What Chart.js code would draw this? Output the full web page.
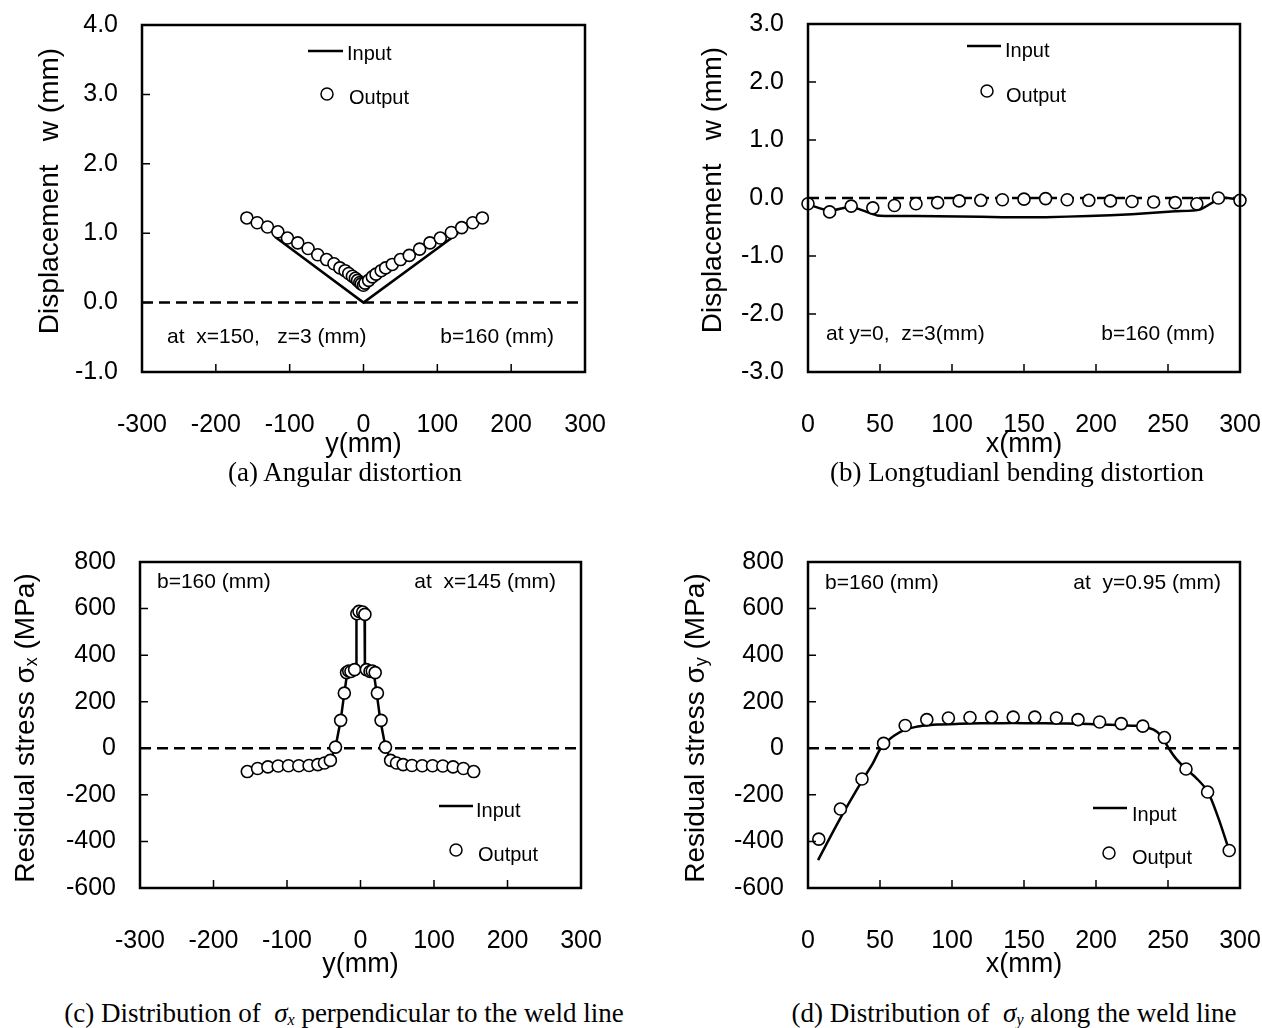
<!DOCTYPE html>
<html>
<head>
<meta charset="utf-8">
<script src="https://cdn.jsdelivr.net/npm/chart.js@4.4.1/dist/chart.umd.min.js"></script>
<style>
  html, body { margin: 0; padding: 0; background: #fff; }
  body { width: 1262px; height: 1028px; position: relative; overflow: hidden; }
  .panel { position: absolute; }
  .cap { position: absolute; transform: translateX(-50%); white-space: nowrap;
         font-family: "Liberation Serif", "Times New Roman", serif; font-size: 27px; color: #000; line-height: 30px; }
  .cap sub { font-size: 16px; vertical-align: -3px; }
</style>
</head>
<body>
<div class="panel" style="left:0;top:0"><canvas id="cA" width="631" height="461"></canvas></div>
<div class="panel" style="left:631px;top:0"><canvas id="cB" width="631" height="461"></canvas></div>
<div class="panel" style="left:0;top:480px"><canvas id="cC" width="631" height="501"></canvas></div>
<div class="panel" style="left:631px;top:480px"><canvas id="cD" width="631" height="501"></canvas></div>

<div class="cap" style="left:345px;top:457px">(a) Angular distortion</div>
<div class="cap" style="left:1017px;top:457px">(b) Longtudianl bending distortion</div>
<div class="cap" style="left:344px;top:998px">(c) Distribution of&nbsp; <i>σ<sub>x</sub></i> perpendicular to the weld line</div>
<div class="cap" style="left:1014px;top:998px">(d) Distribution of&nbsp; <i>σ<sub>y</sub></i> along the weld line</div>

<script>
// ---- data ----
// (a) angular distortion, w vs y
const angInY = [-120, 0, 128];
const angInW = [0.95, 0, 1.0];
const angOutY = [-158, -144, -130, -116, -103, -89, -75, -62, -50, -40, -32, -25, -20, -15, -11, -8, -5, -3,
                 0, 2, 7, 12, 17, 24, 30, 39, 50, 62, 76, 90, 104, 119, 133, 148, 161];
const angOutW = [1.22, 1.15, 1.09, 1.02, 0.93, 0.86, 0.78, 0.69, 0.62, 0.56, 0.50, 0.46, 0.42, 0.38, 0.35, 0.32, 0.29, 0.27,
                 0.25, 0.28, 0.32, 0.37, 0.41, 0.46, 0.50, 0.55, 0.62, 0.68, 0.77, 0.86, 0.93, 1.01, 1.08, 1.15, 1.22];

// (b) longitudinal bending, w vs x
const lonInX = [0, 15, 30, 48, 75, 105, 135, 165, 195, 225, 255, 272, 287, 300];
const lonInW = [-0.11, -0.22, -0.15, -0.30, -0.31, -0.32, -0.33, -0.33, -0.31, -0.28, -0.23, -0.20, 0.0, -0.03];
const lonOutX = [0, 15, 30, 45, 60, 75, 90, 105, 120, 135, 150, 165, 180, 195, 210, 225, 240, 255, 270, 285, 300];
const lonOutW = [-0.10, -0.24, -0.14, -0.17, -0.13, -0.10, -0.08, -0.05, -0.04, -0.03, -0.02, -0.01, -0.03, -0.04,
                 -0.05, -0.06, -0.07, -0.08, -0.10, 0.0, -0.04];

// (c) sigma_x across the weld
const sxInY = [-41, -34, -27, -22, -18, -6, -5.5, 5.5, 6, 18, 22, 27, 34, 41];
const sxInS = [-52, 5, 120, 237, 325, 335, 585, 585, 335, 325, 237, 120, 5, -52];
const sxOutY = [-154, -140, -126, -112, -98, -84, -70, -58, -49, -41, -34, -27, -22, -19, -16, -13, -8,
                -5, -2, 3, 6, 8, 13, 16, 20, 23, 28, 34, 41, 49, 58, 70, 84, 98, 112, 126, 140, 154];
const sxOutS = [-100, -87, -80, -76, -75, -75, -74, -70, -63, -52, 5, 120, 237, 325, 332, 330, 338,
                578, 588, 585, 575, 338, 330, 332, 325, 237, 120, 5, -52, -63, -70, -74, -75, -75, -76, -80, -87, -100];

// (d) sigma_y along the weld
const syInX = [7, 22.5, 37.5, 45, 50, 55, 60, 67.5, 75, 82.5, 90, 105, 120, 135, 150, 165, 180, 195, 210, 225,
               232.5, 240, 245, 250, 255, 262.5, 270, 277.5, 285, 292.5];
const syInS = [-480, -300, -140, -65, -5, 30, 55, 80, 92, 98, 102, 105, 107, 108, 108, 107, 106, 104, 101, 97,
               94, 80, 55, 5, -40, -89, -130, -185, -300, -440];
const syOutX = [7.5, 22.5, 37.5, 52.5, 67.5, 82.5, 97.5, 112.5, 127.5, 142.5, 157.5, 172.5, 187.5, 202.5, 217.5,
                232.5, 247.5, 262.5, 277.5, 292.5];
const syOutS = [-390, -261, -132, 21, 98, 123, 130, 132, 134, 134, 134, 130, 123, 113, 106, 95, 46, -89, -188, -439];

// tick values
const ticksYmm = [-300, -200, -100, 0, 100, 200, 300];
const ticksXmm = [0, 50, 100, 150, 200, 250, 300];
const ticksW4 = [-1, 0, 1, 2, 3, 4];
const ticksW3 = [-3, -2, -1, 0, 1, 2, 3];
const ticksS = [-600, -400, -200, 0, 200, 400, 600, 800];

const FONT = '"Liberation Sans", Arial, sans-serif';
Chart.defaults.font.family = FONT;
Chart.defaults.color = '#000';

function pts(xs, ys) { return xs.map((v, i) => ({ x: v, y: ys[i] })); }

// frame, dashed zero line, inner ticks, notes, legend and y title
function framePlugin(c) {
    return {
        id: 'frame',
        beforeDatasetsDraw(chart) {
            const { ctx, chartArea: a, scales: { y } } = chart;
            const y0 = y.getPixelForValue(0);
            ctx.save();
            ctx.strokeStyle = '#000'; ctx.lineWidth = 2.5; ctx.setLineDash([11, 6]);
            ctx.beginPath(); ctx.moveTo(a.left, y0); ctx.lineTo(a.right, y0); ctx.stroke();
            ctx.restore();
        },
        afterDraw(chart) {
            const { ctx, chartArea: a, scales: { x, y } } = chart;
            ctx.save();
            ctx.strokeStyle = '#000'; ctx.fillStyle = '#000';
            ctx.lineWidth = 1.5;
            ctx.beginPath();
            x.ticks.forEach(t => {
                if (t.value > x.min && t.value < x.max) { const p = x.getPixelForValue(t.value); ctx.moveTo(p, a.bottom); ctx.lineTo(p, a.bottom - 8); }
            });
            y.ticks.forEach(t => {
                if (t.value > y.min && t.value < y.max) { const p = y.getPixelForValue(t.value); ctx.moveTo(a.left, p); ctx.lineTo(a.left + 8, p); }
            });
            ctx.stroke();
            ctx.lineWidth = 2.5;
            ctx.strokeRect(a.left, a.top, a.width, a.height);

            // notes
            ctx.font = '21px ' + FONT; ctx.textBaseline = 'middle';
            c.notes.forEach(n => {
                ctx.textAlign = n.align;
                ctx.fillText(n.t, n.align === 'right' ? a.right + n.x : a.left + n.x, a.top + n.y);
            });

            // legend
            const L = c.leg;
            ctx.font = '20px ' + FONT;
            ctx.lineWidth = 2.5;
            ctx.beginPath(); ctx.moveTo(a.left + L.lx, a.top + L.ly); ctx.lineTo(a.left + L.lx + L.lw, a.top + L.ly); ctx.stroke();
            ctx.textAlign = 'left';
            ctx.fillText('Input', a.left + L.tx, a.top + L.ty);
            ctx.fillText('Output', a.left + L.ox, a.top + L.oy);
            ctx.lineWidth = 1.5; ctx.fillStyle = '#fff';
            ctx.beginPath(); ctx.arc(a.left + L.cx, a.top + L.cy, 6, 0, Math.PI * 2); ctx.fill(); ctx.stroke();

            // rotated y title with optional subscript
            ctx.fillStyle = '#000';
            ctx.translate(a.left - c.yOff, a.top + c.yDy);
            ctx.rotate(-Math.PI / 2);
            ctx.textAlign = 'left';
            let w = 0;
            c.yTitle.forEach(p => { ctx.font = p.s + 'px ' + FONT; w += ctx.measureText(p.t).width; });
            let px = -w / 2;
            c.yTitle.forEach(p => {
                ctx.font = p.s + 'px ' + FONT;
                ctx.fillText(p.t, px, p.dy || 0);
                px += ctx.measureText(p.t).width;
            });
            ctx.restore();
        }
    };
}

function makeChart(id, c) {
    new Chart(document.getElementById(id), {
        type: 'scatter',
        data: {
            datasets: [
                { label: 'Output', order: 0, data: pts(c.outX, c.outY), showLine: false, clip: false,
                  pointRadius: 6, pointHoverRadius: 6, pointBorderWidth: 1.6,
                  pointBackgroundColor: '#fff', pointBorderColor: '#000' },
                { label: 'Input', order: 1, data: pts(c.inX, c.inY), showLine: true, tension: c.tension,
                  borderColor: '#000', borderWidth: 2.5, pointRadius: 0, fill: false }
            ]
        },
        options: {
            responsive: false, animation: false, events: [],
            layout: { autoPadding: false, padding: { top: c.pad.top, right: c.pad.right, left: 0, bottom: 0 } },
            plugins: { legend: { display: false }, tooltip: { enabled: false } },
            scales: {
                x: {
                    type: 'linear', min: c.xTicks[0], max: c.xTicks[c.xTicks.length - 1],
                    afterBuildTicks: s => { s.ticks = c.xTicks.map(v => ({ value: v })); },
                    afterFit: s => { s.height = c.xH; s.paddingLeft = 0; s.paddingRight = 0; },
                    grid: { display: false, drawTicks: false }, border: { display: false },
                    ticks: { padding: 38, font: { size: 25 }, color: '#000', maxRotation: 0, autoSkip: false,
                             callback: v => String(v) },
                    title: { display: true, text: c.xTitle, font: { size: 27 }, color: '#000', padding: 0 }
                },
                y: {
                    type: 'linear', min: c.yTicks[0], max: c.yTicks[c.yTicks.length - 1],
                    afterBuildTicks: s => { s.ticks = c.yTicks.map(v => ({ value: v })); },
                    afterFit: s => { s.width = c.yW; s.paddingTop = 0; s.paddingBottom = 0; },
                    grid: { display: false, drawTicks: false }, border: { display: false },
                    ticks: { padding: 24, font: { size: 25 }, color: '#000', autoSkip: false, callback: c.yFmt }
                }
            }
        },
        plugins: [framePlugin(c)]
    });
}

const fmt1 = v => v.toFixed(1);
const fmt0 = v => String(v);

makeChart('cA', {
    inX: angInY, inY: angInW, outX: angOutY, outY: angOutW, tension: 0,
    xTicks: ticksYmm, yTicks: ticksW4, yFmt: fmt1, xTitle: 'y(mm)',
    yW: 142, xH: 89, pad: { top: 25, right: 46 },
    yOff: 92, yDy: 166, yTitle: [{ t: 'Displacement   w (mm)', s: 28 }],
    notes: [{ t: 'at  x=150,   z=3 (mm)', x: 25, y: 312, align: 'left' },
            { t: 'b=160 (mm)', x: -31, y: 312, align: 'right' }],
    leg: { lx: 166, lw: 35, ly: 26, tx: 205, ty: 29, cx: 185, cy: 69, ox: 207, oy: 73 }
});

makeChart('cB', {
    inX: lonInX, inY: lonInW, outX: lonOutX, outY: lonOutW, tension: 0.2,
    xTicks: ticksXmm, yTicks: ticksW3, yFmt: fmt1, xTitle: 'x(mm)',
    yW: 177, xH: 89, pad: { top: 24, right: 22 },
    yOff: 95, yDy: 166, yTitle: [{ t: 'Displacement   w (mm)', s: 28 }],
    notes: [{ t: 'at y=0,  z=3(mm)', x: 18, y: 310, align: 'left' },
            { t: 'b=160 (mm)', x: -25, y: 310, align: 'right' }],
    leg: { lx: 159, lw: 34, ly: 22, tx: 197, ty: 27, cx: 179, cy: 67, ox: 198, oy: 72 }
});

makeChart('cC', {
    inX: sxInY, inY: sxInS, outX: sxOutY, outY: sxOutS, tension: 0,
    xTicks: ticksYmm, yTicks: ticksS, yFmt: fmt0, xTitle: 'y(mm)',
    yW: 140, xH: 93, pad: { top: 82, right: 50 },
    yOff: 114, yDy: 166,
    yTitle: [{ t: 'Residual stress σ', s: 28 }, { t: 'x', s: 18, dy: 6 }, { t: ' (MPa)', s: 28 }],
    notes: [{ t: 'b=160 (mm)', x: 17, y: 20, align: 'left' },
            { t: 'at  x=145 (mm)', x: -25, y: 20, align: 'right' }],
    leg: { lx: 299, lw: 34, ly: 244, tx: 336, ty: 249, cx: 316, cy: 288, ox: 338, oy: 293 }
});

makeChart('cD', {
    inX: syInX, inY: syInS, outX: syOutX, outY: syOutS, tension: 0.3,
    xTicks: ticksXmm, yTicks: ticksS, yFmt: fmt0, xTitle: 'x(mm)',
    yW: 177, xH: 93, pad: { top: 82, right: 22 },
    yOff: 112, yDy: 166,
    yTitle: [{ t: 'Residual stress σ', s: 28 }, { t: 'y', s: 18, dy: 6 }, { t: ' (MPa)', s: 28 }],
    notes: [{ t: 'b=160 (mm)', x: 17, y: 21, align: 'left' },
            { t: 'at  y=0.95 (mm)', x: -19, y: 21, align: 'right' }],
    leg: { lx: 285, lw: 34, ly: 246, tx: 324, ty: 253, cx: 301, cy: 291, ox: 324, oy: 296 }
});
</script>
</body>
</html>
